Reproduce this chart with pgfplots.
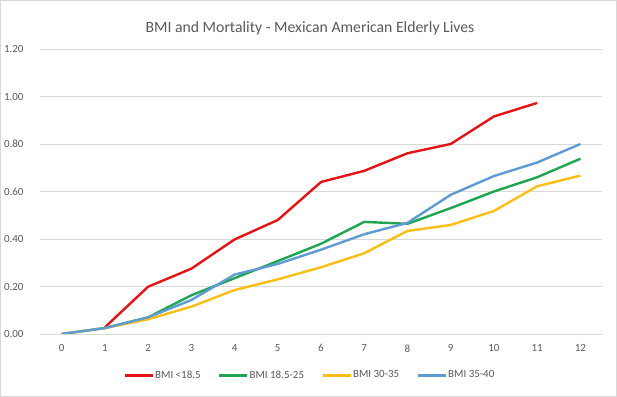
\documentclass[border=0pt]{standalone}
\usepackage{fontspec}
\setmainfont{Carlito}
\usepackage{pgfplots}
\pgfplotsset{compat=1.18}
\definecolor{cred}{RGB}{228,20,22}
\definecolor{cgreen}{RGB}{30,165,80}
\definecolor{cyellow}{RGB}{250,190,20}
\definecolor{cblue}{RGB}{95,155,210}
\definecolor{cgrid}{RGB}{217,217,217}
\definecolor{ctext}{RGB}{89,89,89}
\begin{document}
\begin{tikzpicture}
\useasboundingbox (0,0) rectangle (617bp,397bp);
\draw[cgrid, line width=0.8bp] (0.5bp,0.5bp) rectangle (616.5bp,396.5bp);
\node[text=ctext, font=\fontsize{15.8}{18}\selectfont] at (310bp,369bp) {BMI and Mortality - Mexican American Elderly Lives};
\begin{axis}[
  at={(40bp,63bp)}, anchor=south west,
  width=562bp, height=285bp, scale only axis,
  xmin=-0.5, xmax=12.5, ymin=0, ymax=1.2,
  xtick={0,...,12}, ytick={0,0.2,...,1.2},
  axis line style={draw=none},
  ymajorgrids, grid style={cgrid, line width=0.8bp},
  major tick length=0pt,
  tick label style={text=ctext, font=\fontsize{11}{12}\selectfont},
  /pgf/number format/assume math mode=true,
  yticklabel style={/pgf/number format/fixed, /pgf/number format/fixed zerofill, /pgf/number format/precision=2, xshift=-13bp},
  xticklabel style={yshift=-7bp},
  legend columns=4,
  legend style={draw=none, at={(0.48,-0.144)}, anchor=center, font=\fontsize{11}{12}\selectfont, text=ctext,
    /tikz/every even column/.append style={column sep=15bp},
    /tikz/every odd column/.append style={column sep=-1bp}},
  legend image code/.code={\draw[#1, line width=3bp] (0bp,0bp) -- (28bp,0bp);},
  every axis plot/.append style={line width=2.4bp, line join=round},
]
\addplot[cred] coordinates {(1,0.028) (2,0.199) (3,0.275) (4,0.398) (5,0.48) (6,0.64) (7,0.687) (8,0.761) (9,0.80) (10,0.916) (11,0.973)};
\addlegendentry{BMI <18.5}
\addplot[cgreen] coordinates {(0,0) (1,0.025) (2,0.07) (3,0.163) (4,0.235) (5,0.307) (6,0.38) (7,0.472) (8,0.464) (9,0.53) (10,0.60) (11,0.66) (12,0.738)};
\addlegendentry{BMI 18.5-25}
\addplot[cyellow] coordinates {(0,0) (1,0.025) (2,0.062) (3,0.115) (4,0.185) (5,0.23) (6,0.281) (7,0.34) (8,0.434) (9,0.459) (10,0.518) (11,0.622) (12,0.667)};
\addlegendentry{BMI 30-35}
\addplot[cblue] coordinates {(0,0) (1,0.025) (2,0.07) (3,0.143) (4,0.25) (5,0.295) (6,0.355) (7,0.42) (8,0.468) (9,0.586) (10,0.665) (11,0.722) (12,0.80)};
\addlegendentry{BMI 35-40}
\end{axis}
\end{tikzpicture}
\end{document}
